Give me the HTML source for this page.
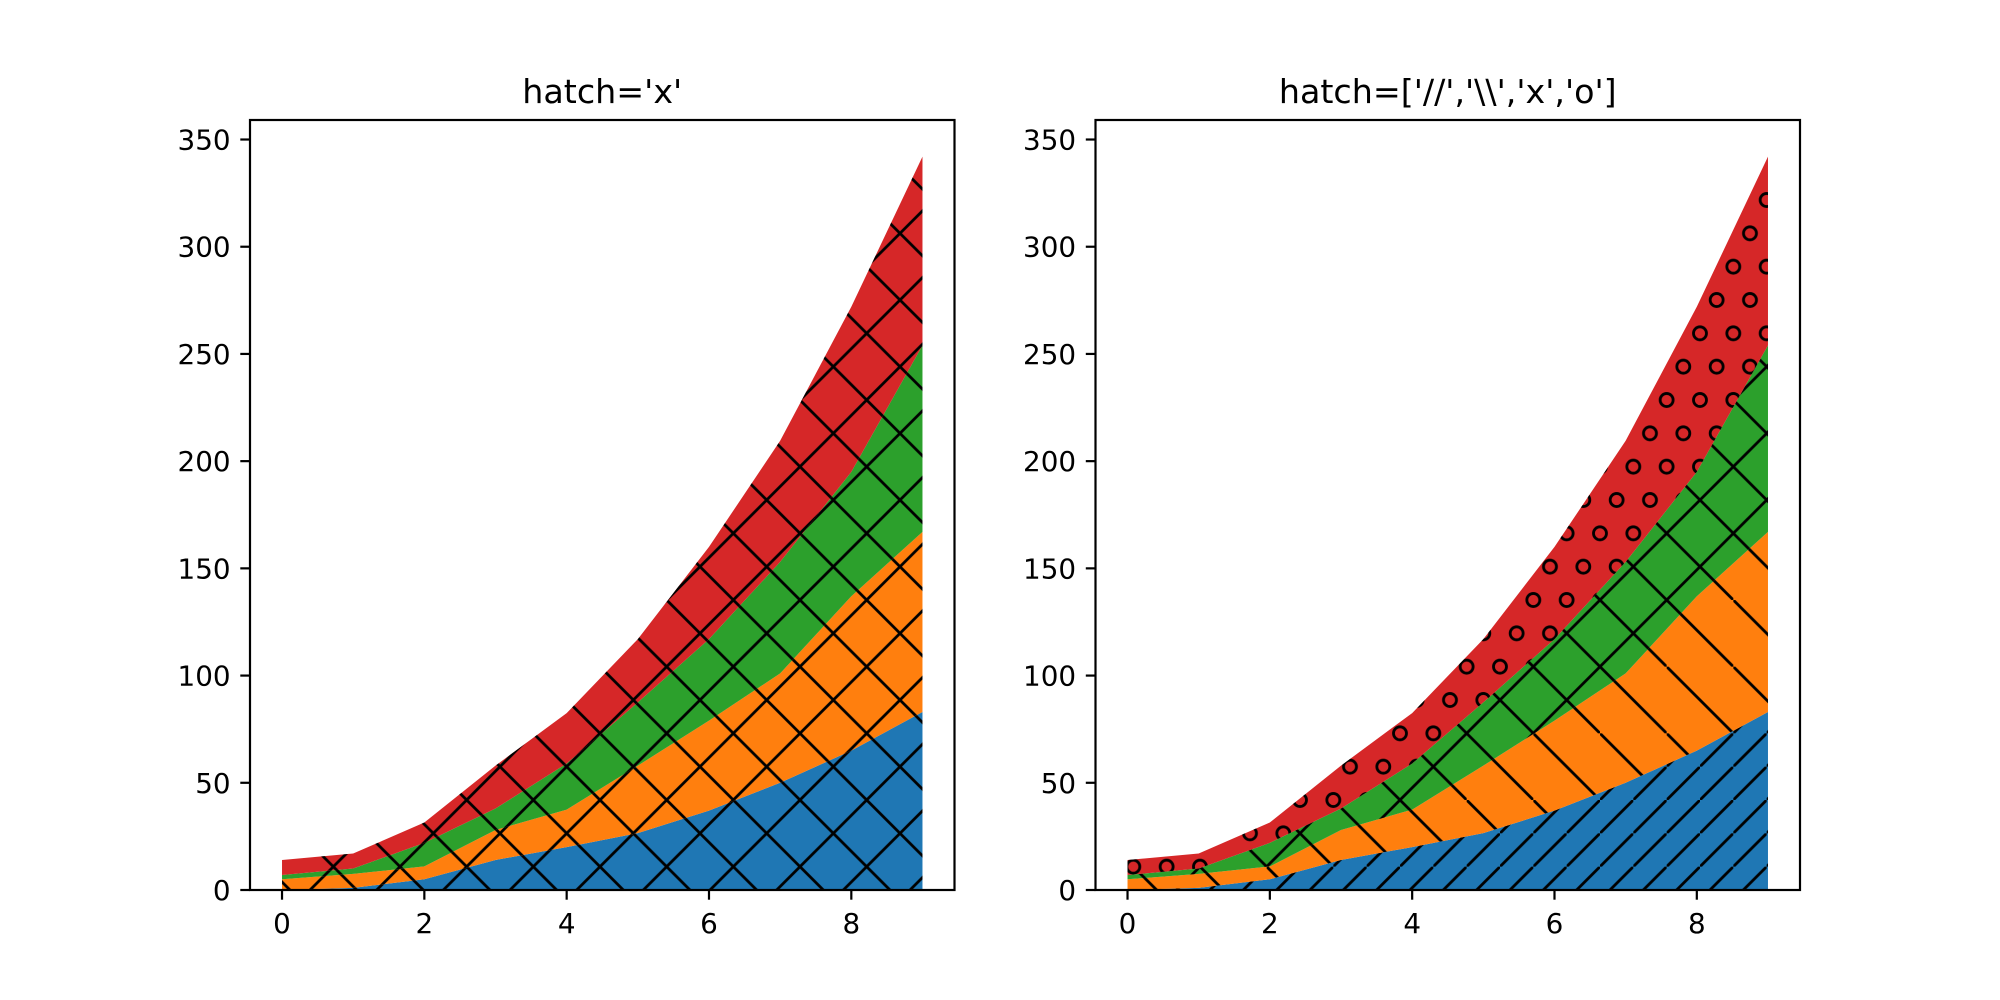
<!DOCTYPE html>
<html><head><meta charset="utf-8"><style>
html,body{margin:0;padding:0;background:#fff;}
svg{display:block;font-family:"DejaVu Sans","Liberation Sans",sans-serif;}
</style></head><body>
<svg id="fig" width="2000" height="1000" viewBox="0 0 2000 1000" xmlns="http://www.w3.org/2000/svg">
<defs>
<pattern id="hx" patternUnits="userSpaceOnUse" width="66.667" height="66.667">
<path d="M-2,-2L68.67,68.67M-2,68.67L68.67,-2" stroke="#000" stroke-width="2.8"/></pattern>
<pattern id="hs" patternUnits="userSpaceOnUse" width="33.333" height="33.333">
<path d="M-2,35.33L35.33,-2" stroke="#000" stroke-width="2.8"/></pattern>
<pattern id="hb" patternUnits="userSpaceOnUse" width="66.667" height="66.667">
<path d="M-2,-2L68.67,68.67" stroke="#000" stroke-width="2.8"/></pattern>
<pattern id="ho" patternUnits="userSpaceOnUse" width="33.333" height="66.667">
<circle cx="0" cy="0" r="6.5" fill="none" stroke="#000" stroke-width="2.8"/>
<circle cx="33.333" cy="0" r="6.5" fill="none" stroke="#000" stroke-width="2.8"/>
<circle cx="0" cy="66.667" r="6.5" fill="none" stroke="#000" stroke-width="2.8"/>
<circle cx="33.333" cy="66.667" r="6.5" fill="none" stroke="#000" stroke-width="2.8"/>
<circle cx="16.667" cy="33.333" r="6.5" fill="none" stroke="#000" stroke-width="2.8"/>
</pattern>
</defs>
</svg>
<script>
const xs = [0,1,2,3,4,5,6,7,8,9];
const blue = [0,1,5,14,20,26.5,37,50,65,83];
const orange = [5,6.5,6,14,17.5,31.5,42,51,72,84];
const green = [2,2.5,11,10,21.5,29.5,38,52,58,87];
const red = [7,7,9.5,20,23.5,29.5,43,56.5,77,88];
const xTicks = [0,2,4,6,8];
const yTicks = [0,50,100,150,200,250,300,350];
const titles = ["hatch='x'", "hatch=['//','\\\\','x','o']"];

const NS='http://www.w3.org/2000/svg';
const svg=document.getElementById('fig');
const colors=['#1f77b4','#ff7f0e','#2ca02c','#d62728'];
const seriesNames=['blue','orange','green','red'];
const hatchSets=[['hx','hx','hx','hx'],['hs','hb','hx','ho']];
const layers=[blue,orange,green,red];
const axW=704.5, axTop=120, axBot=890;
const lefts=[250,1095.5];
const tot=xs.map((_,i)=>layers.reduce((s,l)=>s+l[i],0));
const ymax=Math.max(...tot)*1.05;
const xmin=-0.45, xmax=9.45;
function el(t,a,p){const e=document.createElementNS(NS,t);for(const k in a)e.setAttribute(k,a[k]);(p||svg).appendChild(e);return e;}

lefts.forEach((L,ai)=>{
  const sx=v=>L+(v-xmin)/(xmax-xmin)*axW;
  const sy=v=>axBot-v/ymax*(axBot-axTop);
  const g=el('g',{});
  
  
  let base=xs.map(()=>0);
  layers.forEach((ly,li)=>{
    const upper=base.map((b,i)=>b+ly[i]);
    let d='M'+xs.map((x,i)=>sx(x)+','+sy(upper[i])).join('L');
    for(let i=xs.length-1;i>=0;i--) d+='L'+sx(xs[i])+','+sy(base[i]);
    d+='Z';
    const p=el('path',{d:d,fill:colors[li]},g);
    
    
    const h=el('path',{d:d,fill:'url(#'+hatchSets[ai][li]+')'},g);
    
    
    base=upper;
  });
  const fr=el('rect',{x:L,y:axTop,width:axW,height:axBot-axTop,fill:'none',stroke:'#000','stroke-width':2.2},g);
  
  
  xTicks.forEach(t=>{
    const x=sx(t);
    el('line',{x1:x,x2:x,y1:axBot,y2:axBot+9.7,stroke:'#000','stroke-width':2.2},g);
    const tx=el('text',{x:x,y:axBot+43,'font-size':27.8,'text-anchor':'middle'},g);
    tx.textContent=t;
    
    
  });
  yTicks.forEach(t=>{
    const y=sy(t);
    el('line',{x1:L,x2:L-9.7,y1:y,y2:y,stroke:'#000','stroke-width':2.2},g);
    const tx=el('text',{x:L-19.4,y:y+10,'font-size':27.8,'text-anchor':'end'},g);
    tx.textContent=t;
    
    
  });
  const ti=el('text',{x:L+axW/2,y:103,'font-size':33.3,'text-anchor':'middle'},g);
  ti.textContent=titles[ai];
  
  
});
</script>
</body></html>
